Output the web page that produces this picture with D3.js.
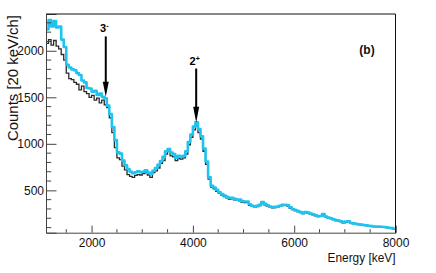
<!DOCTYPE html>
<html>
<head>
<meta charset="utf-8">
<script src="https://cdn.jsdelivr.net/npm/d3@7"></script>
<style>
  body { margin: 0; background: #fff; }
  text { font-family: "Liberation Sans", Arial, sans-serif; }
</style>
</head>
<body>
<svg id="vis" width="436" height="273"></svg>
<script>
const width = 436;
const height = 273;
const margin = { top: 14, right: 40.5, bottom: 40.3, left: 46 };

// 50 keV bins, first bin starts at 1100 keV
const binStart = 1100;
const binWidth = 50;

// black histogram
const countsBlack = [
  2080, 2120, 2060, 2110, 2050, 2020, 1960, 1900, 1760, 1700,
  1690, 1660, 1640, 1580, 1620, 1560, 1540, 1500, 1520, 1470,
  1490, 1440, 1470, 1420, 1390, 1280, 1120, 960, 850, 830,
  760, 720, 670, 650, 640, 660, 670, 665, 680, 690,
  665, 640, 690, 710, 740, 790, 820, 890, 920, 870,
  860, 820, 840, 835, 850, 890, 990, 1070, 1150, 1200,
  1120, 1050, 920, 780, 620, 535, 515, 490, 470, 448,
  432, 420, 405, 412, 398, 392, 388, 375, 368, 372,
  340, 328, 318, 326, 335, 362, 345, 332, 318, 312,
  314, 320, 328, 336, 340, 332, 310, 294, 282, 272,
  262, 250, 262, 255, 246, 236, 226, 218, 222, 240,
  214, 204, 196, 186, 176, 172, 165, 150, 160, 165,
  146, 142, 137, 133, 130, 125, 121, 117, 113, 110,
  107, 108, 106, 103, 100, 96, 91, 85
];

// cyan histogram
const countsCyan = [
  2230, 2330, 2260, 2320, 2250, 2260, 2120, 2040, 1850, 1820,
  1800, 1790, 1760, 1740, 1680, 1660, 1600, 1595, 1560, 1570,
  1525, 1540, 1505, 1490, 1410, 1320, 1180, 1040, 910, 895,
  820, 770, 730, 700, 685, 695, 705, 695, 700, 715,
  690, 675, 710, 740, 775, 815, 860, 920, 945, 905,
  890, 850, 870, 860, 870, 920, 1020, 1100, 1185, 1230,
  1160, 1080, 950, 810, 640, 550, 530, 505, 480, 460,
  445, 430, 420, 420, 410, 400, 400, 385, 380, 380,
  350, 335, 325, 335, 345, 375, 355, 340, 325, 320,
  322, 325, 335, 345, 345, 340, 318, 300, 288, 278,
  268, 255, 268, 262, 252, 242, 232, 222, 225, 245,
  218, 208, 200, 190, 180, 175, 168, 152, 165, 168,
  150, 145, 140, 136, 132, 128, 124, 120, 116, 112,
  110, 111, 109, 106, 103, 99, 94, 88
];

// peak markers: energy, arrow top, arrow tip (counts)
const peakLabels = ["3", "2"];
const peakSigns = ["-", "+"];
const peakEnergy = [2280, 4065];
const arrowTop = [2154, 1809];
const arrowTip = [1507, 1226];

const xMajor = [2000, 4000, 6000, 8000];
const xMinor = [1500, 2500, 3000, 3500, 4500, 5000, 5500, 6500, 7000, 7500];
const yMajor = [500, 1000, 1500, 2000];

const svg = d3.select("svg#vis");
const x = d3.scaleLinear().domain([1100, 8000]).range([margin.left, width - margin.right]);
const y = d3.scaleLinear().domain([45, 2395]).range([height - margin.bottom, margin.top]);

svg.append("clipPath").attr("id", "frame")
  .append("rect")
  .attr("x", x(1100)).attr("y", y(2395))
  .attr("width", x(8000) - x(1100)).attr("height", y(45) - y(2395));

// step histogram (bin edges)
function histPoints(values) {
  const pts = values.map((v, i) => [binStart + i * binWidth, v]);
  pts.push([binStart + values.length * binWidth, values[values.length - 1]]);
  return pts;
}

const stepLine = d3.line()
  .x(d => x(d[0]))
  .y(d => y(d[1]))
  .curve(d3.curveStepAfter);

const plot = svg.append("g").attr("clip-path", "url(#frame)");

plot.append("path")
  .datum(histPoints(countsBlack))
  .attr("d", stepLine)
  .attr("fill", "none")
  .attr("stroke", "#2a2a2a")
  .attr("stroke-width", 1.3);

plot.append("path")
  .datum(histPoints(countsCyan))
  .attr("d", stepLine)
  .attr("fill", "none")
  .attr("stroke", "#1ec3ef")
  .attr("stroke-width", 2.6)
  .attr("stroke-linejoin", "round");

// axes (ticks pointing inward, ROOT style)
const xAxis = svg.append("g")
  .attr("transform", "translate(0," + y(45) + ")")
  .call(d3.axisBottom(x).tickValues(xMajor).tickSize(-7).tickPadding(5.5).tickFormat(d3.format("d")));
xAxis.append("g")
  .selectAll("line")
  .data(xMinor)
  .join("line")
  .attr("x1", d => x(d)).attr("x2", d => x(d))
  .attr("y1", 0).attr("y2", -3.5)
  .attr("stroke", "#444");

const yAxis = svg.append("g")
  .attr("transform", "translate(" + x(1100) + ",0)")
  .call(d3.axisLeft(y).tickValues(yMajor).tickSize(-10.5).tickPadding(3).tickFormat(d3.format("d")));
yAxis.append("g")
  .selectAll("line")
  .data(d3.range(100, 2400, 100).filter(v => v % 500 !== 0))
  .join("line")
  .attr("x1", 0).attr("x2", 5.2)
  .attr("y1", d => y(d)).attr("y2", d => y(d))
  .attr("stroke", "#444");

svg.selectAll(".domain").attr("stroke", "#444");
svg.selectAll(".tick line").attr("stroke", "#444");
svg.selectAll(".tick text")
  .attr("fill", "#111")
  .style("font-size", "12px");
yAxis.selectAll(".tick text").attr("x", -2);

// remaining frame lines
svg.append("line")
  .attr("x1", x(1100)).attr("x2", x(8000))
  .attr("y1", y(2395)).attr("y2", y(2395))
  .attr("stroke", "#111");
svg.append("line")
  .attr("x1", x(8000)).attr("x2", x(8000))
  .attr("y1", y(2395)).attr("y2", y(45))
  .attr("stroke", "#111");

// axis titles
svg.append("text")
  .attr("x", x(8000))
  .attr("y", 262)
  .attr("text-anchor", "end")
  .attr("textLength", 68)
  .attr("lengthAdjust", "spacingAndGlyphs")
  .style("font-size", "12.5px")
  .attr("fill", "#111")
  .text("Energy [keV]");

svg.append("text")
  .attr("transform", "translate(18,15) rotate(-90)")
  .attr("text-anchor", "end")
  .attr("textLength", 126)
  .attr("lengthAdjust", "spacingAndGlyphs")
  .style("font-size", "14px")
  .attr("fill", "#111")
  .text("Counts [20 keV/ch]");

// panel tag
svg.append("text")
  .attr("x", 367)
  .attr("y", 53.5)
  .attr("text-anchor", "middle")
  .style("font-size", "12px")
  .style("font-weight", "bold")
  .attr("fill", "#111")
  .text("(b)");

// arrows
const arrows = svg.append("g");
peakEnergy.forEach(function(e, i) {
  const ax = x(e);
  const headLen = i === 0 ? 15 : 16;
  const tipY = y(arrowTip[i]);
  arrows.append("line")
    .attr("x1", ax).attr("x2", ax)
    .attr("y1", y(arrowTop[i])).attr("y2", tipY - headLen + 2)
    .attr("stroke", "#000")
    .attr("stroke-width", 2);
  arrows.append("path")
    .attr("d", "M" + (ax - 3) + "," + (tipY - headLen) + "L" + (ax + 3) + "," + (tipY - headLen) + "L" + ax + "," + tipY + "Z")
    .attr("fill", "#000");
  const t = arrows.append("text")
    .attr("x", ax - 1.5)
    .attr("y", y(arrowTop[i]) - 4)
    .attr("text-anchor", "middle")
    .style("font-size", "11px")
    .style("font-weight", "bold")
    .attr("fill", "#000");
  t.append("tspan").text(peakLabels[i]);
  t.append("tspan")
    .attr("dy", -4)
    .style("font-size", "7px")
    .text(peakSigns[i]);
});
</script>
</body>
</html>
